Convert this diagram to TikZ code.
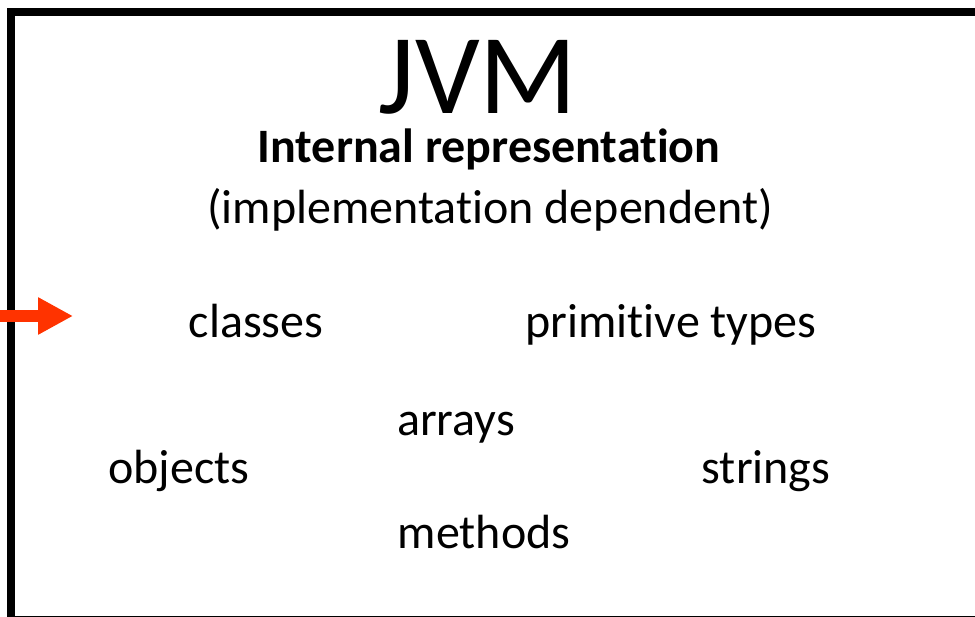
\documentclass[tikz,border=0pt]{standalone}
\usepackage{fontspec}
\setmainfont[Ligatures={NoCommon}]{Carlito}
\usetikzlibrary{arrows.meta}
\definecolor{arrowred}{HTML}{FF3300}
\tikzset{
  lbl/.style={anchor=base, inner sep=0pt, font=\fontsize{48}{56}\selectfont},
  frame/.style={draw=black, line width=8pt},
  inarrow/.style={draw=arrowred, line width=12pt, -{Triangle[length=35pt,width=35pt]}}
}
\begin{document}
\begin{tikzpicture}[x=1pt,y=-1pt]
\useasboundingbox (0,0) rectangle (975,617);
\begin{scope}
\clip (0,0) rectangle (975,617);
\draw[frame] (10.7,12) rectangle (1000,620);
\coordinate (arrowstart) at (-2,316);
\coordinate (arrowtip) at (73,316);
\draw[inarrow] (arrowstart) -- (arrowtip);
\end{scope}
\node[lbl, text depth=0pt, font=\fontsize{114}{120}\selectfont] (jvm) at (478,114) {JVM};
\node[lbl, text height=33pt, font=\bfseries\fontsize{48}{56}\selectfont] (internal) at (489,163) {Internal representation};
\node[lbl] (impl) at (490,224) {(implementation dependent)};
\node[lbl] (classes) at (256,338) {classes};
\node[lbl] (prim) at (671,338) {primitive types};
\node[lbl] (arrays) at (456,436) {arrays};
\node[lbl] (objects) at (179,483) {objects};
\node[lbl] (strings) at (766,483) {strings};
\node[lbl] (methods) at (484,548) {methods};
\end{tikzpicture}
\end{document}
